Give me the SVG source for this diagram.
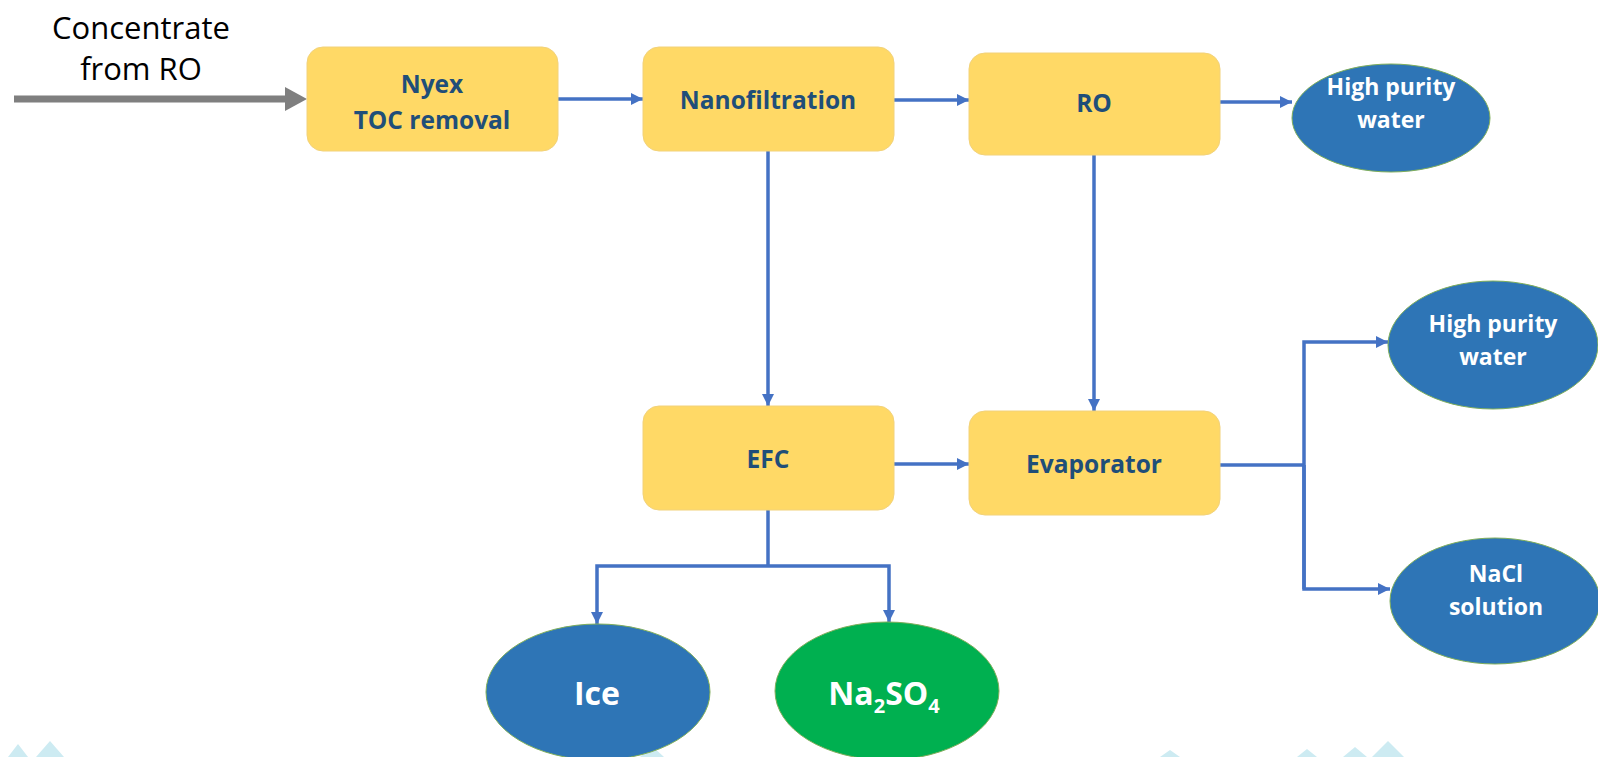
<svg xmlns="http://www.w3.org/2000/svg" width="1598" height="757" viewBox="0 0 1598 757">
<style>
.box{fill:#FFD966;stroke:#F2D27A;stroke-width:1}
.bt{font-family:"Open Sans","Liberation Sans",sans-serif;font-weight:bold;font-size:24.5px;fill:#1F4E79;text-anchor:middle}
.ell{stroke:#7FAE5A;stroke-width:1}
.blue{fill:#2E75B6}
.green{fill:#00B050}
.et{font-family:"Open Sans","Liberation Sans",sans-serif;font-weight:bold;font-size:23px;fill:#FFFFFF;text-anchor:middle}
.big{font-size:32px}
.con{fill:none;stroke:#4472C4;stroke-width:3.5}
.deco{fill:#CDEBF2}
</style>
<defs>
<marker id="ah" markerUnits="userSpaceOnUse" markerWidth="14" markerHeight="14" refX="12" refY="6" orient="auto">
<path d="M0,0 L12,6 L0,12 Z" fill="#4472C4"/>
</marker>
</defs>
<g id="background">
<polygon class="deco" points="8,757 18,744 28,757"/>
<polygon class="deco" points="36,757 50,741 64,757"/>
<polygon class="deco" points="640,757 652,746 664,757"/>
<polygon class="deco" points="1160,757 1170,750 1180,757"/>
<polygon class="deco" points="1297,757 1307,749 1317,757"/>
<polygon class="deco" points="1343,757 1355,747 1367,757"/>
<polygon class="deco" points="1372,757 1388,741 1404,757"/>
</g>
<g id="input-label">
<text x="141" y="39" font-family="Open Sans, Liberation Sans, sans-serif" font-size="31" fill="#000" text-anchor="middle">Concentrate</text>
<text x="141" y="80" font-family="Open Sans, Liberation Sans, sans-serif" font-size="31" fill="#000" text-anchor="middle">from RO</text>
</g>
<g id="connectors">
<line x1="14" y1="99" x2="287" y2="99" stroke="#7F7F7F" stroke-width="7"/>
<polygon points="285,87 307,99 285,111" fill="#7F7F7F"/>
<line class="con" x1="558" y1="99" x2="643" y2="99" marker-end="url(#ah)"/>
<line class="con" x1="894" y1="100" x2="969" y2="100" marker-end="url(#ah)"/>
<line class="con" x1="1220" y1="102" x2="1292" y2="102" marker-end="url(#ah)"/>
<line class="con" x1="768" y1="151" x2="768" y2="406" marker-end="url(#ah)"/>
<line class="con" x1="1094" y1="155" x2="1094" y2="411" marker-end="url(#ah)"/>
<line class="con" x1="894" y1="464" x2="969" y2="464" marker-end="url(#ah)"/>
<polyline class="con" points="1220,465 1304,465"/>
<polyline class="con" points="1304,589 1304,342 1388,342" marker-end="url(#ah)"/>
<polyline class="con" points="1304,465 1304,589 1390,589" marker-end="url(#ah)"/>
<polyline class="con" points="768,510 768,566"/>
<polyline class="con" points="768,566 597,566 597,624" marker-end="url(#ah)"/>
<polyline class="con" points="768,566 889,566 889,622" marker-end="url(#ah)"/>
</g>
<g id="nyex">
<rect class="box" x="307" y="47" width="251" height="104" rx="16"/>
<text class="bt" x="432" y="93">Nyex</text>
<text class="bt" x="432" y="129">TOC removal</text>
</g>
<g id="nanofiltration">
<rect class="box" x="643" y="47" width="251" height="104" rx="16"/>
<text class="bt" x="768" y="109">Nanofiltration</text>
</g>
<g id="ro">
<rect class="box" x="969" y="53" width="251" height="102" rx="16"/>
<text class="bt" x="1094" y="112">RO</text>
</g>
<g id="hpw1">
<ellipse class="ell blue" cx="1391" cy="118" rx="99" ry="54"/>
<text class="et" x="1391" y="95">High purity</text>
<text class="et" x="1391" y="128">water</text>
</g>
<g id="efc">
<rect class="box" x="643" y="406" width="251" height="104" rx="16"/>
<text class="bt" x="768" y="468">EFC</text>
</g>
<g id="evaporator">
<rect class="box" x="969" y="411" width="251" height="104" rx="16"/>
<text class="bt" x="1094" y="473">Evaporator</text>
</g>
<g id="hpw2">
<ellipse class="ell blue" cx="1493" cy="345" rx="105" ry="64"/>
<text class="et" x="1493" y="332">High purity</text>
<text class="et" x="1493" y="365">water</text>
</g>
<g id="nacl">
<ellipse class="ell blue" cx="1495" cy="601" rx="105" ry="63"/>
<text class="et" x="1496" y="582">NaCl</text>
<text class="et" x="1496" y="615">solution</text>
</g>
<g id="ice">
<ellipse class="ell blue" cx="598" cy="692" rx="112" ry="68"/>
<text class="et big" x="597" y="705">Ice</text>
</g>
<g id="na2so4">
<ellipse class="ell green" cx="887" cy="691" rx="112" ry="69"/>
<text class="et big" x="884" y="705">Na<tspan font-size="20" dy="8">2</tspan><tspan dy="-8">SO</tspan><tspan font-size="20" dy="8">4</tspan></text>
</g>
</svg>
